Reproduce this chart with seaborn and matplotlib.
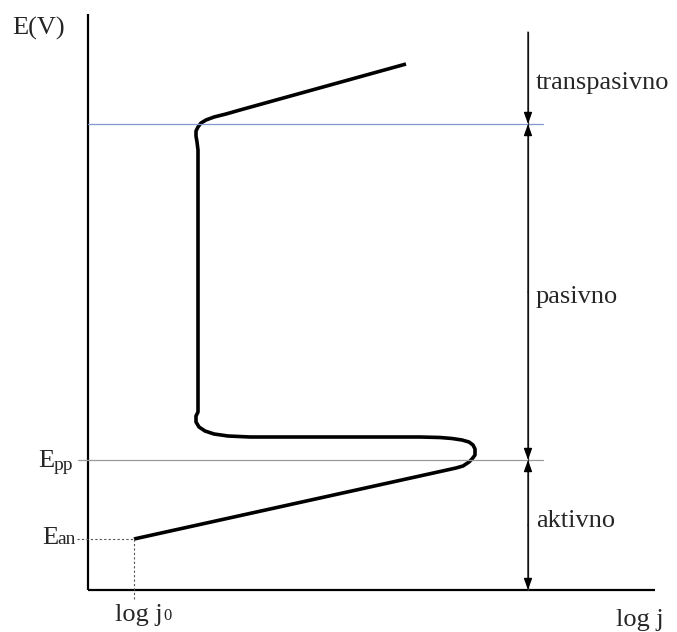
import numpy as np
import pandas as pd
import seaborn as sns
import matplotlib.pyplot as plt

# polarization curve (x = log j, y = E, in picture units)
curve_x = [134, 447, 456, 463, 469, 472, 475, 475, 473, 469, 462, 452, 440, 420, 300, 250,
           228, 214, 205, 199, 196, 196, 198,
           198, 197, 196, 196, 198, 201, 206, 214, 226, 240, 406]
curve_y = [539, 470, 468, 466, 462, 459, 455, 449, 445, 442, 440, 438.5, 437.5, 437, 437, 437,
           436, 434, 431, 427, 422, 416, 412,
           150, 142, 136, 131, 127, 123, 120, 117, 114, 110, 64]

# levels
E_top = 124      # start of transpassive region
E_pp = 460       # passivation potential
E_an = 539       # anodic equilibrium potential
log_j0 = 134
E_dim_top = 32
x_origin, y_origin = 88, 590
x_end, y_end = 655, 14
x_dim = 528

regions = ["transpasivno", "pasivno", "aktivno"]
region_label_y = [89, 303, 527]

sns.set_style("white")
plt.rcParams["font.family"] = ["Liberation Serif", "DejaVu Serif"]

fig = plt.figure(figsize=(6.77, 6.32), dpi=100)
ax = fig.add_axes([0, 0, 1, 1])
ax.set_xlim(0, 677)
ax.set_ylim(632, 0)
ax.axis("off")

df = pd.DataFrame({"log_j": curve_x, "E": curve_y})
sns.lineplot(data=df, x="log_j", y="E", sort=False, estimator=None, color="black",
             linewidth=2.6, solid_joinstyle="round", solid_capstyle="butt", ax=ax)

# axes
ax.plot([x_origin, x_origin], [y_end, y_origin], color="black", lw=1.6, solid_capstyle="butt")
ax.plot([x_origin, x_end], [y_origin, y_origin], color="black", lw=1.6, solid_capstyle="butt")

# reference lines
ax.plot([x_origin, 543], [E_top, E_top], color="#8497d0", lw=0.9)
ax.plot([78, 543], [E_pp, E_pp], color="#9a9a9a", lw=0.9)
ax.plot([77, log_j0], [E_an, E_an], color="#555555", lw=0.8, ls=(0, (2, 2)))
ax.plot([log_j0, log_j0], [E_an, 600], color="#555555", lw=0.8, ls=(0, (2, 2)))

# dimension line with arrows
ax.plot([x_dim, x_dim], [E_dim_top, y_origin], color="#333333", lw=0.9)
arrow = dict(arrowstyle="-|>,head_length=0.7,head_width=0.25", color="black", lw=0.9,
             shrinkA=0, shrinkB=0)
for a, b in [(E_dim_top, E_top), ((E_top + E_pp) / 2, E_top), ((E_top + E_pp) / 2, E_pp),
             ((E_pp + y_origin) / 2, E_pp), ((E_pp + y_origin) / 2, y_origin)]:
    ax.annotate("", xy=(x_dim, b), xytext=(x_dim, a), arrowprops=arrow)

fs = 19
for lab, y in zip(regions, region_label_y):
    ax.text(536, y, lab, fontsize=fs, va="baseline", ha="left")

ax.text(12, 35, "E(V)", fontsize=fs, va="baseline", ha="left")
ax.text(38, 467, "E", fontsize=fs, va="baseline", ha="left")
ax.text(54, 470, "pp", fontsize=14, va="baseline", ha="left")
ax.text(42, 544, "E", fontsize=fs, va="baseline", ha="left")
ax.text(57, 544, "an", fontsize=14, va="baseline", ha="left")
ax.text(115, 621, "log j", fontsize=fs, va="baseline", ha="left")
ax.text(163, 620, "0", fontsize=12, va="baseline", ha="left")
ax.text(616, 626, "log j", fontsize=fs, va="baseline", ha="left")

fig.savefig("out.png", dpi=100)
